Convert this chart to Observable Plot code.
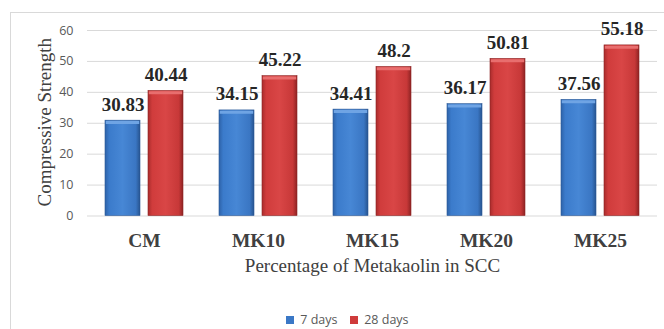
<!DOCTYPE html>
<html>
<head>
<meta charset="utf-8">
<script src="https://cdn.jsdelivr.net/npm/d3@7"></script>
<script src="https://cdn.jsdelivr.net/npm/@observablehq/plot@0.6"></script>
<style>
  html, body { margin: 0; padding: 0; background: #fff; }
  #chart { position: relative; width: 664px; height: 329px; overflow: hidden; }
  #frame { position: absolute; left: 10px; top: 12px; width: 720px; height: 400px;
           border: 1px solid #d9d9d9; box-sizing: border-box; }
  #chart svg.main { position: absolute; left: 0; top: 0; }
  #legend { position: absolute; left: 286px; top: 303px; }
</style>
</head>
<body>
<div id="chart"><div id="frame"></div></div>
<script>
// Compressive strength (MPa) of SCC mixes with metakaolin replacement
const categories = ["CM", "MK10", "MK15", "MK20", "MK25"];
const series = ["7 days", "28 days"];
const days7 = [30.83, 34.15, 34.41, 36.17, 37.56];
const days28 = [40.44, 45.22, 48.2, 50.81, 55.18];
const yTicks = [0, 10, 20, 30, 40, 50, 60];
const xTitle = "Percentage of Metakaolin in SCC";
const yTitle = "Compressive Strength";

const rows = categories.flatMap((c, i) => [
  {category: c, series: series[0], value: days7[i]},
  {category: c, series: series[1], value: days28[i]}
]);

const serif = "'Liberation Serif', 'Times New Roman', serif";
const sans = "'Open Sans', 'Liberation Sans', sans-serif";

// Per-series bar styling: gradient body, lighter bevel on top, dark edge
const styles = [
  {name: series[0], swatch: "#3a78c6", fill: "url(#bar-blue)", top: "#6fa4e4", edge: "#2a5896",
   stops: [[0, "#2d62a8"], [0.12, "#3b7bcb"], [0.5, "#4787d5"], [0.88, "#3a76c3"], [1, "#27548f"]]},
  {name: series[1], swatch: "#cf3b3b", fill: "url(#bar-red)", top: "#e86e6e", edge: "#8c2222",
   stops: [[0, "#a92c2c"], [0.12, "#d03c3c"], [0.5, "#d94646"], [0.88, "#c73838"], [1, "#8e2323"]]}
];

const height = 296;
const zeroY = 215.5;

const seriesMarks = styles.flatMap(s => {
  const d = rows.filter(r => r.series === s.name);
  return [
    Plot.barY(d, {fx: "category", x: "series", y: "value", fill: s.fill,
                  stroke: s.edge, strokeWidth: 0.6}),
    Plot.tickY(d, {fx: "category", x: "series", y: "value", stroke: s.top,
                   strokeWidth: 3, dy: 1.8, inset: 0.8}),
    Plot.text(d, {fx: "category", x: "series", y: "value", text: r => String(r.value),
                  lineAnchor: "bottom", dy: -10, fontSize: 19, fontWeight: "bold",
                  fontFamily: serif, fill: "#262626"})
  ];
});

const svg = Plot.plot({
  width: 664,
  height,
  marginLeft: 87,
  marginRight: 7,
  marginTop: 30,
  marginBottom: height - zeroY,
  className: "main",
  style: {background: "transparent", overflow: "visible"},
  fx: {domain: categories, padding: 0},
  x: {domain: series, paddingInner: 0.18, paddingOuter: 0.386, axis: null},
  y: {domain: [0, 60]},
  marks: [
    Plot.gridY(yTicks, {stroke: "#d9d9d9", strokeOpacity: 1}),
    Plot.axisY(yTicks, {tickSize: 0, tickPadding: 14, fontSize: 12.5, fontFamily: sans,
                        fill: "#595959", label: null}),
    Plot.axisFx({anchor: "bottom", tickSize: 0, tickPadding: 17, fontSize: 19.5,
                 fontWeight: "bold", fontFamily: serif, fill: "#404040", label: null}),
    ...seriesMarks,
    Plot.text([xTitle], {facet: "super", frameAnchor: "bottom", text: d => d,
                         lineAnchor: "bottom", dy: 56, fontSize: 19, fontFamily: serif,
                         fill: "#404040"}),
    Plot.text([yTitle], {facet: "super", frameAnchor: "left", text: d => d,
                         rotate: -90, textAnchor: "middle", lineAnchor: "middle",
                         dx: -43, dy: -1, fontSize: 19, fontFamily: serif, fill: "#404040"})
  ]
});

// Gradient definitions used by the bar fills
const ns = "http://www.w3.org/2000/svg";
const defs = document.createElementNS(ns, "defs");
for (const s of styles) {
  const g = document.createElementNS(ns, "linearGradient");
  g.setAttribute("id", s.fill.slice(5, -1));
  g.setAttribute("x1", "0"); g.setAttribute("x2", "1");
  g.setAttribute("y1", "0"); g.setAttribute("y2", "0");
  for (const [o, c] of s.stops) {
    const st = document.createElementNS(ns, "stop");
    st.setAttribute("offset", o);
    st.setAttribute("stop-color", c);
    g.appendChild(st);
  }
  defs.appendChild(g);
}
svg.insertBefore(defs, svg.firstChild);

const legend = Plot.legend({
  color: {type: "ordinal", domain: series, range: styles.map(s => s.swatch)},
  legend: "swatches",
  swatchSize: 8,
  style: {fontSize: "12.5px", fontFamily: sans, color: "#595959"}
});
legend.id = "legend";

const chart = document.getElementById("chart");
chart.appendChild(svg);
chart.appendChild(legend);
</script>
</body>
</html>
